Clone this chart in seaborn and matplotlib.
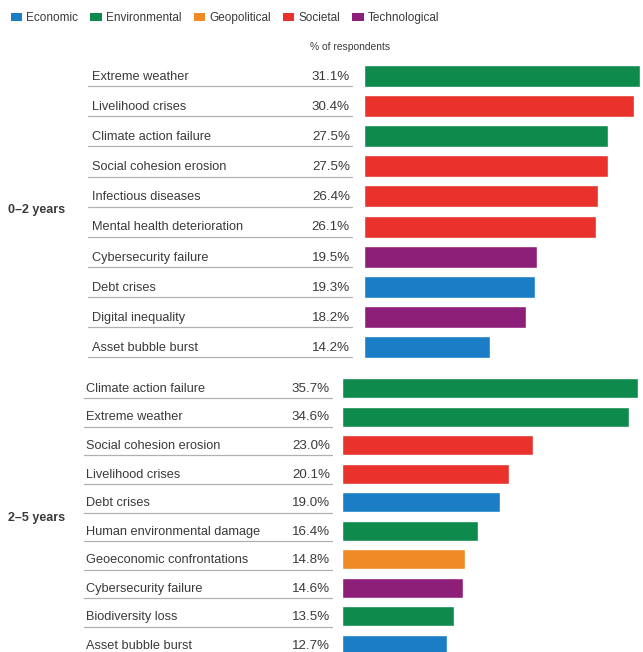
import pandas as pd
import matplotlib
matplotlib.use("Agg")
import matplotlib.pyplot as plt
import matplotlib.transforms as mtransforms
from matplotlib.patches import Patch
import seaborn as sns

# short-term (0-2 years) risks
short_risks = ["Extreme weather", "Livelihood crises", "Climate action failure",
               "Social cohesion erosion", "Infectious diseases",
               "Mental health deterioration", "Cybersecurity failure",
               "Debt crises", "Digital inequality", "Asset bubble burst"]
short_values = [31.1, 30.4, 27.5, 27.5, 26.4, 26.1, 19.5, 19.3, 18.2, 14.2]
short_cats = ["Environmental", "Societal", "Environmental", "Societal", "Societal",
              "Societal", "Technological", "Economic", "Technological", "Economic"]

# medium-term (2-5 years) risks
mid_risks = ["Climate action failure", "Extreme weather", "Social cohesion erosion",
             "Livelihood crises", "Debt crises", "Human environmental damage",
             "Geoeconomic confrontations", "Cybersecurity failure",
             "Biodiversity loss", "Asset bubble burst"]
mid_values = [35.7, 34.6, 23.0, 20.1, 19.0, 16.4, 14.8, 14.6, 13.5, 12.7]
mid_cats = ["Environmental", "Environmental", "Societal", "Societal", "Economic",
            "Environmental", "Geopolitical", "Technological", "Environmental",
            "Economic"]

categories = ["Economic", "Environmental", "Geopolitical", "Societal", "Technological"]
colors = ["#1a7dc6", "#0e8a4c", "#ef8a25", "#e8322b", "#8d1f79"]
palette = dict(zip(categories, colors))

sns.set_theme(style="white")
plt.rcParams["font.family"] = ["Liberation Sans", "DejaVu Sans"]

W, H = 643, 652
fig = plt.figure(figsize=(W / 100, H / 100), dpi=100)

text_col = "#3a3a3a"


def panel(rect, risks, values, cats, bar_w, label_x, value_x, line_x0, line_x1, line_off,
          xmax, group_label, group_y):
    ax = fig.add_axes(rect)
    df = pd.DataFrame({"risk": risks, "value": values, "category": cats})
    sns.barplot(data=df, x="value", y="risk", hue="category", palette=palette,
                dodge=False, width=bar_w, legend=False, ax=ax, saturation=1)
    ax.set_xlim(0, xmax)
    ax.set_ylim(len(risks) - 0.5, -0.5)
    ax.axis("off")
    tr = mtransforms.blended_transform_factory(fig.transFigure, ax.transData)
    for i, (r, v) in enumerate(zip(risks, values)):
        ax.text(label_x / W, i + 0.03, r, transform=tr, ha="left", va="center",
                fontsize=9.2, color=text_col)
        ax.text(value_x / W, i + 0.03, f"{v:.1f}%", transform=tr, ha="right",
                va="center", fontsize=9.6, color=text_col)
        ax.plot([line_x0 / W, line_x1 / W], [i + line_off, i + line_off], transform=tr,
                color="#b0b0b0", lw=0.9, clip_on=False)
    fig.text(8 / W, 1 - group_y / H, group_label, ha="left", va="center",
             fontsize=9, fontweight="bold", color=text_col)
    return ax


# top panel: rows centred at y=76..347 px, bars from x=364 px
panel([364 / W, 1 - 362 / H, 1 - 364 / W, 301 / H], short_risks, short_values,
      short_cats, 0.73, 92, 350, 88, 352, 0.34, (W - 364) / 8.88, "0\u20132 years", 210)

# bottom panel: rows centred at y=388..645 px, bars from x=342 px
panel([342 / W, 1 - 659.3 / H, 1 - 342 / W, 285.6 / H], mid_risks, mid_values,
      mid_cats, 0.70, 86, 330, 84, 332, 0.36, (W - 342) / 8.29, "2\u20135 years", 518)

fig.text(310 / W, 1 - 47 / H, "% of respondents", ha="left", va="center",
         fontsize=7.4, color=text_col)

handles = [Patch(facecolor=c, edgecolor="none", label=k) for k, c in palette.items()]
fig.legend(handles=handles, loc="center left", bbox_to_anchor=(0 / W, 1 - 18 / H),
           ncol=5, frameon=False, fontsize=8.5, handlelength=0.95, handleheight=0.7,
           handletextpad=0.35, columnspacing=1.05, labelcolor=text_col)

fig.savefig("out.png", dpi=100, facecolor="white")
